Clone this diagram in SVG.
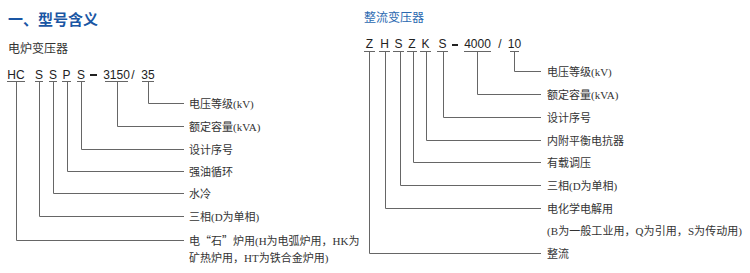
<svg xmlns="http://www.w3.org/2000/svg" width="750" height="273" viewBox="0 0 750 273">
<style>
.bg{fill:#fff}
.title{font-family:"Noto Sans CJK SC",sans-serif;font-weight:bold;font-size:15px;fill:#1a56a4}
.sub{font-family:"Liberation Serif","Noto Sans CJK SC",serif;font-size:12px;fill:#333}
.subb{font-family:"Liberation Serif","Noto Sans CJK SC",serif;font-size:12px;fill:#2a68b0}
.code{font-family:"Liberation Sans",Arial,sans-serif;font-size:12px;fill:#222;text-anchor:middle}
.lbl{font-family:"Liberation Serif","Noto Sans CJK SC",serif;font-size:11px;fill:#333}
.cjk{font-family:"Noto Sans CJK SC",sans-serif}
.ln{fill:none;stroke:#666;stroke-width:1}
.ul{fill:none;stroke:#666;stroke-width:1}
.dash{stroke:#222;stroke-width:2}
</style>
<rect class="bg" x="0" y="0" width="750" height="273"/>
<g id="title"><text class="title" x="8" y="25">一、型号含义</text></g>
<g id="sub-left"><text class="sub" x="8" y="53">电炉变压器</text></g>
<g id="sub-right"><text class="subb" x="364" y="22">整流变压器</text></g>

<g id="connectors">
  <g id="underlines-left">
    <path class="ul" d="M7 81.5H25M35 81.5H43M49 81.5H57M62 81.5H71M77 81.5H85M105 81.5H128M142 81.5H154"/>
  </g>
  <g id="underlines-right">
    <path class="ul" d="M364 51.5H375M379 51.5H390M393 51.5H404M407 51.5H417M420 51.5H431M437 51.5H448M464 51.5H491M510 51.5H519"/>
  </g>
  <path class="ln" d="M16.5 81.5V240.5H184"/>
  <path class="ln" d="M39.5 81.5V216.5H184"/>
  <path class="ln" d="M53.5 81.5V193.5H184"/>
  <path class="ln" d="M67.5 81.5V171.5H184"/>
  <path class="ln" d="M81.5 81.5V149.5H184"/>
  <path class="ln" d="M117.5 81.5V126.5H184"/>
  <path class="ln" d="M148.5 81.5V103.5H184"/>
  <path class="ln" d="M369.5 51.5V253.5H541"/>
  <path class="ln" d="M385.5 51.5V208.5H541"/>
  <path class="ln" d="M400.5 51.5V185.5H541"/>
  <path class="ln" d="M413.5 51.5V162.5H541"/>
  <path class="ln" d="M426.5 51.5V140.5H541"/>
  <path class="ln" d="M443.5 51.5V117.5H541"/>
  <path class="ln" d="M477.5 51.5V94.5H541"/>
  <path class="ln" d="M514.5 51.5V71.5H541"/>
</g>

<g id="code-left">
  <text class="code" x="16" y="79">HC</text>
  <text class="code" x="39" y="79">S</text>
  <text class="code" x="53" y="79">S</text>
  <text class="code" x="66.5" y="79">P</text>
  <text class="code" x="81" y="79">S</text>
  <line class="dash" x1="90" y1="75" x2="97" y2="75"/>
  <text class="code" x="116.5" y="79">3150</text>
  <text class="code" x="133" y="79">/</text>
  <text class="code" x="148" y="79">35</text>
</g>
<g id="code-right">
  <text class="code" x="369.5" y="48">Z</text>
  <text class="code" x="384.5" y="48">H</text>
  <text class="code" x="398.5" y="48">S</text>
  <text class="code" x="412" y="48">Z</text>
  <text class="code" x="425.5" y="48">K</text>
  <text class="code" x="442.5" y="48">S</text>
  <line class="dash" x1="452" y1="45" x2="458" y2="45"/>
  <text class="code" x="477.5" y="48">4000</text>
  <text class="code" x="500" y="48">/</text>
  <text class="code" x="514.5" y="48">10</text>
</g>

<g id="labels-left">
  <g id="l-voltage"><text class="lbl" x="189" y="107.5">电压等级(kV)</text></g>
  <g id="l-capacity"><text class="lbl" x="189" y="130.5">额定容量(kVA)</text></g>
  <g id="l-design"><text class="lbl" x="189" y="153.5">设计序号</text></g>
  <g id="l-oil"><text class="lbl" x="189" y="175.5">强油循环</text></g>
  <g id="l-water"><text class="lbl" x="189" y="197.5">水冷</text></g>
  <g id="l-phase"><text class="lbl" x="189" y="220.5">三相(D为单相)</text></g>
  <g id="l-use"><text class="lbl" x="189" y="244.5">电<tspan class="cjk">“</tspan>石<tspan class="cjk">”</tspan>炉用(H为电弧炉用，HK为</text>
  <text class="lbl" x="189" y="262">矿热炉用，HT为铁合金炉用)</text></g>
</g>

<g id="labels-right">
  <g id="r-voltage"><text class="lbl" x="547" y="75.5">电压等级(kV)</text></g>
  <g id="r-capacity"><text class="lbl" x="547" y="98.5">额定容量(kVA)</text></g>
  <g id="r-design"><text class="lbl" x="547" y="121.5">设计序号</text></g>
  <g id="r-reactor"><text class="lbl" x="547" y="144.5">内附平衡电抗器</text></g>
  <g id="r-oltc"><text class="lbl" x="547" y="166.5">有载调压</text></g>
  <g id="r-phase"><text class="lbl" x="547" y="189.5">三相(D为单相)</text></g>
  <g id="r-electro"><text class="lbl" x="547" y="212.5">电化学电解用</text>
  <text class="lbl" x="547" y="235" textLength="195">(B为一般工业用，Q为引用，S为传动用)</text></g>
  <g id="r-rect"><text class="lbl" x="547" y="257.5">整流</text></g>
</g>
</svg>
